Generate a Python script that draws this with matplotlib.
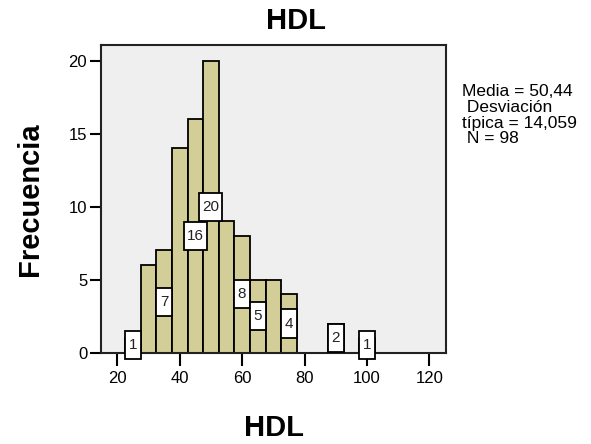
import numpy as np
import matplotlib
matplotlib.use("Agg")
import matplotlib.pyplot as plt
from matplotlib.patches import Rectangle

plt.rcParams['font.family'] = ['Liberation Sans', 'DejaVu Sans']

# bin centres (width 5) and counts
centers = [25, 30, 35, 40, 45, 50, 55, 60, 65, 70, 75, 80, 85, 90, 95, 100]
counts = [1, 6, 7, 14, 16, 20, 9, 8, 5, 5, 4, 0, 0, 2, 0, 1]
labelled = [25, 35, 45, 50, 60, 65, 75, 90, 100]
xticks = [20, 40, 60, 80, 100, 120]
yticks = [0, 5, 10, 15, 20]
stats = "Media = 50,44\n Desviación\ntípica = 14,059\n N = 98"

fig = plt.figure(figsize=(5.91, 4.44), dpi=100)
ax = fig.add_axes([0.171, 0.2056, 0.584, 0.693])
ax.set_facecolor('#efefef')

ax.bar(centers, counts, width=5, color='#d3ce97', edgecolor='black', linewidth=1.3, zorder=2)

# white label boxes at half the bar height
for c, n in zip(centers, counts):
    if c in labelled:
        w = 5.1 if n < 10 else 7.4
        h = 1.92
        ax.add_patch(Rectangle((c - w / 2, n / 2 - h / 2), w, h, fc='white', ec='black',
                               lw=1.3, zorder=3, clip_on=False))
        ax.text(c, n / 2, str(n), ha='center', va='center', fontsize=11, zorder=4,
                color='#222222', clip_on=False)

ax.set_xlim(14.8, 125.4)
ax.set_ylim(0, 21.07)
ax.set_xticks(xticks)
ax.set_yticks(yticks)
ax.tick_params(axis='x', direction='out', length=9, width=1.5, labelsize=12, pad=4)
ax.tick_params(axis='y', direction='out', length=8, width=1.5, labelsize=12, pad=2)
for s in ax.spines.values():
    s.set_linewidth(1.5)
    s.set_color('#222222')

ax.set_xlabel('HDL', fontsize=21, fontweight='bold', labelpad=20)
ax.set_ylabel('Frecuencia', fontsize=21, fontweight='bold', labelpad=18)
fig.suptitle('HDL', x=0.5, y=0.985, fontsize=21, fontweight='bold')

fig.text(0.782, 0.81, stats, fontsize=12.5, va='top', ha='left', linespacing=1.05)

fig.savefig('out.png', dpi=100)
